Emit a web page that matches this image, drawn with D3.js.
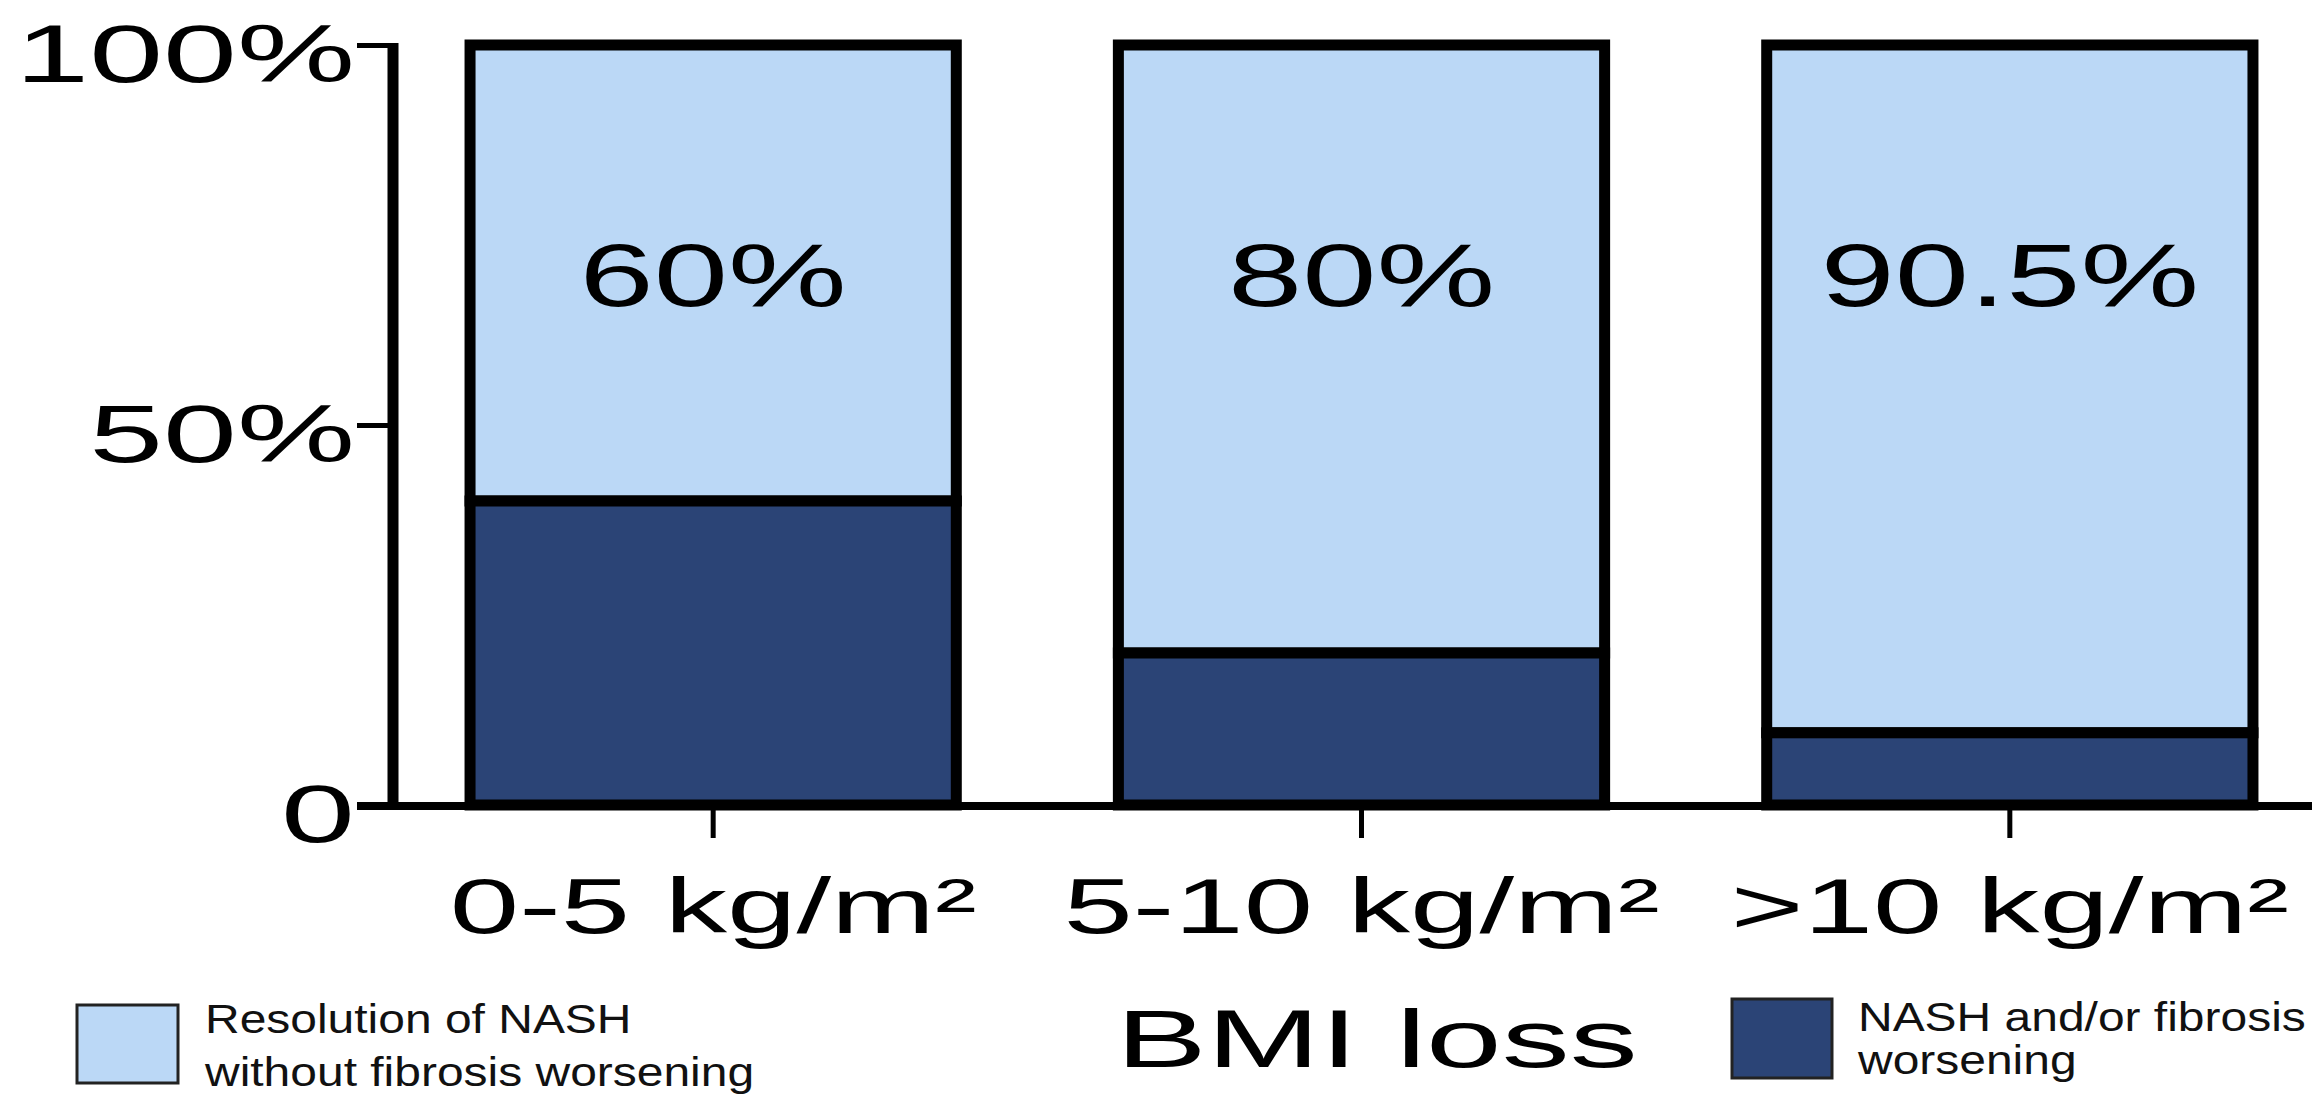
<!DOCTYPE html>
<html>
<head>
<meta charset="utf-8">
<script src="https://cdn.jsdelivr.net/npm/d3@7"></script>
<style>
  html, body { margin: 0; padding: 0; background: #fff; }
  svg { display: block; }
</style>
</head>
<body>
<svg id="chart" width="2321" height="1097"></svg>
<script>
// BMI-loss groups and outcome shares (percent of patients)
const categories = ["0-5 kg/m²", "5-10 kg/m²", ">10 kg/m²"];
const resolution = [60, 80, 90.5];   // resolution of NASH without fibrosis worsening
const worsening  = [40, 20, 9.5];    // NASH and/or fibrosis worsening
const valueLabels = ["60%", "80%", "90.5%"];
const yTicks = [0, 50, 100];
const yTickLabels = ["0", "50%", "100%"];
const axisTitle = "BMI loss";
const legendResolution = ["Resolution of NASH", "without fibrosis worsening"];
const legendWorsening = ["NASH and/or fibrosis", "worsening"];

const LIGHT = "#BBD8F6";
const DARK = "#2B4476";
const FONT = "'Liberation Sans', Arial, Helvetica, sans-serif";
const WIDE = 1.62;      // horizontal stretch of the large lettering
const LEG_WIDE = 1.17;  // horizontal stretch of the legend lettering

const svg = d3.select("#chart");

const y = d3.scaleLinear().domain([0, 100]).range([805, 45]);
const x = d3.scaleBand()
  .domain(categories)
  .range([389, 2334])
  .paddingInner(0.25)
  .paddingOuter(0.125);

// stacked bars: worsening at the bottom, resolution on top
const bars = svg.append("g")
  .selectAll("g")
  .data(categories)
  .join("g");

bars.append("rect")
  .attr("x", d => x(d))
  .attr("width", x.bandwidth())
  .attr("y", (d, i) => y(worsening[i] + resolution[i]))
  .attr("height", (d, i) => y(worsening[i]) - y(worsening[i] + resolution[i]))
  .attr("fill", LIGHT)
  .attr("stroke", "#000")
  .attr("stroke-width", 11);

bars.append("rect")
  .attr("x", d => x(d))
  .attr("width", x.bandwidth())
  .attr("y", (d, i) => y(worsening[i]))
  .attr("height", (d, i) => y(0) - y(worsening[i]))
  .attr("fill", DARK)
  .attr("stroke", "#000")
  .attr("stroke-width", 11);

bars.append("text")
  .attr("transform", d => `translate(${x(d) + x.bandwidth() / 2},${y(65.6)}) scale(1.5,1)`)
  .attr("text-anchor", "middle")
  .attr("font-family", FONT)
  .attr("font-size", 89)
  .attr("fill", "#000")
  .text((d, i) => valueLabels[i]);

// y axis
const gy = svg.append("g")
  .attr("transform", "translate(393,0)")
  .call(d3.axisLeft(y)
    .tickValues(yTicks)
    .tickFormat((d, i) => yTickLabels[i])
    .tickSizeInner(36)
    .tickSizeOuter(0));
gy.attr("font-family", FONT).attr("font-size", 82);
gy.select(".domain").attr("stroke", "#000").attr("stroke-width", 11)
  .attr("d", `M0,${y(100) - 2}V${y(0)}`);
gy.selectAll(".tick line").attr("stroke", "#000").attr("stroke-width", 5);
gy.selectAll(".tick text")
  .attr("x", null)
  .attr("dy", null)
  .attr("fill", "#000")
  .attr("transform", `translate(-38,36) scale(${WIDE},1)`);

// x axis baseline and category ticks
svg.append("line")
  .attr("x1", 357).attr("x2", 2312)
  .attr("y1", y(0) + 1).attr("y2", y(0) + 1)
  .attr("stroke", "#000")
  .attr("stroke-width", 8);

const gx = svg.append("g")
  .attr("transform", `translate(0,${y(0) + 1})`)
  .call(d3.axisBottom(x).tickSizeInner(32).tickSizeOuter(0));
gx.attr("font-family", FONT).attr("font-size", 77);
gx.select(".domain").remove();
gx.selectAll(".tick line").attr("stroke", "#000").attr("stroke-width", 5);
gx.selectAll(".tick text")
  .attr("y", null)
  .attr("dy", null)
  .attr("fill", "#000")
  .attr("transform", `translate(0,127) scale(${WIDE},1)`);

// axis title
svg.append("text")
  .attr("transform", `translate(1377,1067) scale(1.66,1)`)
  .attr("text-anchor", "middle")
  .attr("font-family", FONT)
  .attr("font-size", 82)
  .attr("fill", "#000")
  .text(axisTitle);

// legend
const legendItems = [
  { fill: LIGHT, lines: legendResolution, box: [77, 1005, 101, 78], tx: 205, base: [1033, 1086] },
  { fill: DARK, lines: legendWorsening, box: [1732, 999, 100, 79], tx: 1858, base: [1031, 1074] }
];
const leg = svg.append("g").selectAll("g").data(legendItems).join("g");
leg.append("rect")
  .attr("x", d => d.box[0]).attr("y", d => d.box[1])
  .attr("width", d => d.box[2]).attr("height", d => d.box[3])
  .attr("fill", d => d.fill)
  .attr("stroke", "#222")
  .attr("stroke-width", 3);
leg.each(function (d) {
  d3.select(this).selectAll("text")
    .data(d.lines)
    .join("text")
    .attr("transform", (t, i) => `translate(${d.tx},${d.base[i]}) scale(${LEG_WIDE},1)`)
    .attr("font-family", FONT)
    .attr("font-size", 41)
    .attr("fill", "#111")
    .text(t => t);
});
</script>
</body>
</html>
